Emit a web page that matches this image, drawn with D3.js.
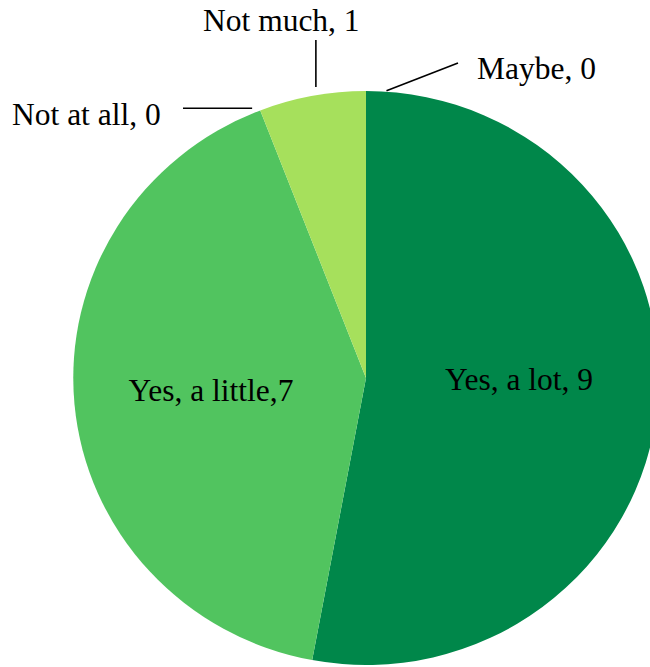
<!DOCTYPE html>
<html>
<head>
<meta charset="utf-8">
<script src="https://cdn.jsdelivr.net/npm/d3@7"></script>
<style>
  body { margin: 0; background: #fff; }
  text { font-family: "Liberation Serif", "Times New Roman", serif; font-size: 31.5px; fill: #000; }
</style>
</head>
<body>
<div id="chart"></div>
<script>
// data, clockwise from 12 o'clock
var categories = ["Yes, a lot", "Yes, a little", "Not at all", "Not much", "Maybe"];
var values = [9, 7, 0, 1, 0];
var labels = ["Yes, a lot, 9", "Yes, a little,7", "Not at all, 0", "Not much, 1", "Maybe, 0"];

var colors = ["#00874a", "#51c45f", "#51c45f", "#a6e05c", "#00874a"];

var width = 650, height = 667;
var cx = 366, cy = 378, r = 287, sx = 1.02; // pie is a touch wider than tall

// label placement: inside labels sit in the slice, outside ones get a leader line
// nudge = degrees added to slice mid angle, off = px outside the rim, end = far end of leader
var layout = [
  { x: 519, y: 390, anchor: "middle" },
  { x: 211, y: 401, anchor: "middle" },
  { x: 12, y: 125, anchor: "start", nudge: -1.3, off: 5, end: "h", endX: 183 },
  { x: 203, y: 31, anchor: "start", nudge: 1, off: 8, end: "v", endY: 40 },
  { x: 477, y: 79, anchor: "start", nudge: 4, off: 1, end: "p", endX: 458, endY: 63 }
];

var svg = d3.select("#chart").append("svg")
  .attr("width", width)
  .attr("height", height);

var pie = d3.pie().sort(null).value(function (d) { return d; });
var arcs = pie(values);

var arc = d3.arc().innerRadius(0).outerRadius(r);

var g = svg.append("g")
  .attr("transform", "translate(" + cx + "," + cy + ") scale(" + sx + ",1)");

g.selectAll("path")
  .data(arcs)
  .enter().append("path")
  .attr("d", arc)
  .attr("fill", function (d, i) { return colors[i]; });

// point on (or just outside) the rim, in page coords
function rimPoint(angleDeg, off) {
  var a = angleDeg * Math.PI / 180;
  return [cx + (r + off) * sx * Math.sin(a), cy - (r + off) * Math.cos(a)];
}

arcs.forEach(function (d, i) {
  var L = layout[i];
  if (L.end) {
    var mid = (d.startAngle + d.endAngle) / 2 * 180 / Math.PI;
    var p = rimPoint(mid + L.nudge, L.off);
    var q;
    if (L.end === "h") q = [L.endX, p[1]];
    else if (L.end === "v") q = [p[0], L.endY];
    else q = [L.endX, L.endY];
    svg.append("line")
      .attr("x1", p[0]).attr("y1", p[1])
      .attr("x2", q[0]).attr("y2", q[1])
      .attr("stroke", "#000")
      .attr("stroke-width", 1.6);
  }
  svg.append("text")
    .attr("x", L.x)
    .attr("y", L.y)
    .attr("text-anchor", L.anchor)
    .text(labels[i]);
});
</script>
</body>
</html>
